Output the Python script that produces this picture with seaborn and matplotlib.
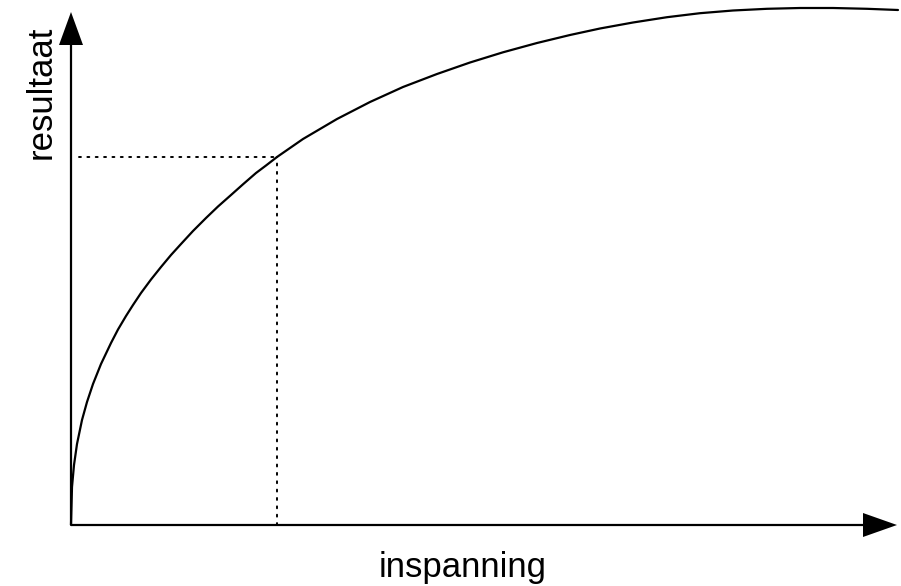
import matplotlib
matplotlib.use("Agg")
import matplotlib.pyplot as plt
import seaborn as sns
import pandas as pd

# Curve (effort -> result), arbitrary units
inspanning = [0, 1, 3, 6, 11, 16, 22, 30, 40, 47, 55, 62, 70, 80, 90, 100, 110, 122,
              135, 147, 160, 172, 185, 195, 206, 232, 266, 299, 332, 366, 399, 432,
              466, 499, 529, 562, 596, 629, 662, 696, 729, 762, 796, 827]
resultaat = [0, 38, 60, 81, 105, 123, 141, 161, 182, 195.5, 209, 220, 232, 245.5, 258,
             270, 281, 294, 307, 318.5, 330, 340.7, 352, 359.5, 368, 386, 406, 423,
             438, 451, 462.5, 472.7, 482, 490, 496.5, 502.5, 507.8, 511.8, 514.5,
             516.2, 517, 517, 516.2, 515]

# Marked point (dotted guide lines)
mark_x = 206
mark_y = 368

x_label = "inspanning"
y_label = "resultaat"

sns.set_style("white")
plt.rcParams["font.family"] = ["Liberation Sans", "DejaVu Sans"]

fig = plt.figure(figsize=(9.01, 5.86), dpi=100)
ax = fig.add_axes([0, 0, 1, 1])
ax.set_xlim(-71, 830)
ax.set_ylim(-61, 525)
ax.axis("off")

df = pd.DataFrame({"inspanning": inspanning, "resultaat": resultaat})
sns.lineplot(data=df, x="inspanning", y="resultaat", ax=ax, color="black",
             linewidth=1.6, sort=False, zorder=3)

# Dotted guide lines
ax.plot([8, mark_x], [mark_y, mark_y], color="black", linewidth=1.4,
        linestyle=(0, (1, 3.3)), dash_capstyle="round", zorder=2)
ax.plot([mark_x, mark_x], [0, mark_y], color="black", linewidth=1.4,
        linestyle=(0, (1, 3.3)), dash_capstyle="round", zorder=2)

# Axes with arrow heads
ax.plot([0, 0], [0, 482], color="black", linewidth=1.6, solid_capstyle="butt", zorder=4)
ax.plot([0, 794], [0, 0], color="black", linewidth=1.6, solid_capstyle="butt", zorder=4)
ax.fill([-12, 12, 0], [480, 480, 513], color="black", zorder=5, linewidth=0)
ax.fill([792, 792, 826], [12, -12, 0], color="black", zorder=5, linewidth=0)

ax.text(392, -52, x_label, fontsize=25, ha="center", va="baseline", color="black")
ax.text(-30, 433, y_label, fontsize=25, ha="center", va="center", rotation=90,
        color="black")

fig.savefig("out.png", dpi=100, facecolor="white")
